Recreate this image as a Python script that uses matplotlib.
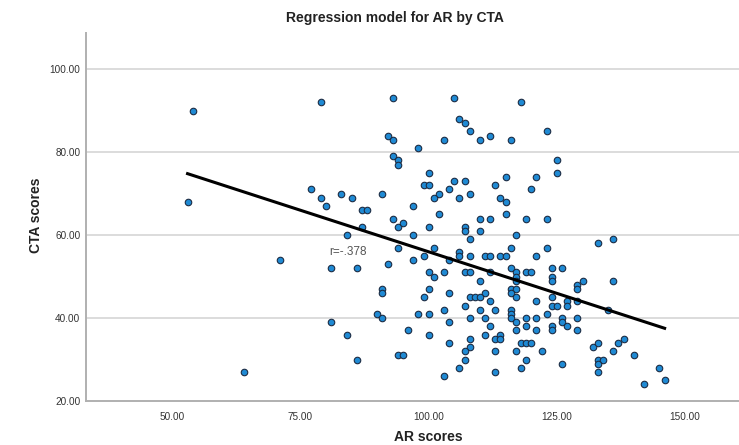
import matplotlib.pyplot as plt
import numpy as np

plt.rcParams['font.family'] = ['Liberation Sans', 'DejaVu Sans']

# AR scores (x) and CTA scores (y)
ar_scores = [
    54, 79, 93, 92, 93, 98, 103, 93, 94, 94, 100, 99, 100, 104, 102, 101, 91, 77,
    79, 80, 83, 85, 87, 88, 97, 102, 93, 94, 95, 87, 100, 84, 97, 53,
    105, 106, 107, 108, 110, 112, 116, 118, 123, 125, 125, 121, 120, 115, 113,
    114, 115, 115, 119, 123, 112, 110, 110, 108, 107, 106, 105, 107, 107, 108,
    117, 136,
    94, 101, 99, 97, 92, 71, 81, 86, 100, 101, 103, 91, 91, 100, 99, 104, 103,
    90, 91, 98, 100, 104, 81, 96, 100, 104, 84, 94, 95, 86, 64, 103, 104,
    133, 106, 106, 108, 111, 112, 114, 115, 116, 121, 123,
    107, 108, 110, 112, 116, 117, 117, 117, 119, 120, 124, 126, 124, 124, 129,
    130, 129, 136,
    116, 117, 116, 117, 111, 108, 109, 110, 112, 107, 110, 113, 116, 116, 116,
    121, 124, 124, 125, 127, 127, 129, 123, 126, 126, 127, 129, 129, 124, 124,
    121, 121, 119, 119, 117, 117, 135, 108, 111, 112, 111, 113, 114, 114, 108,
    108, 107, 107, 106, 113, 113, 117, 118, 119, 120, 119, 118, 122, 126, 132,
    133, 133, 134, 133, 133, 136, 137, 138, 140, 142, 145, 146,
]
cta_scores = [
    90, 92, 93, 84, 83, 81, 83, 79, 78, 77, 75, 72, 72, 71, 70, 69, 70, 71,
    69, 67, 70, 69, 66, 66, 67, 65, 64, 62, 63, 62, 62, 60, 60, 68,
    93, 88, 87, 85, 83, 84, 83, 92, 85, 78, 75, 74, 71, 74, 72,
    69, 68, 65, 64, 64, 64, 64, 61, 70, 73, 69, 73, 62, 61, 59,
    60, 59,
    57, 57, 55, 54, 53, 54, 52, 52, 51, 50, 51, 47, 46, 47, 45, 46, 42,
    41, 40, 41, 41, 39, 39, 37, 36, 34, 36, 31, 31, 30, 27, 26, 54,
    58, 56, 55, 55, 55, 55, 55, 55, 57, 55, 57,
    51, 51, 49, 51, 52, 51, 50, 49, 51, 51, 52, 52, 50, 49, 48,
    49, 47, 49,
    47, 47, 46, 45, 46, 45, 45, 45, 44, 43, 42, 42, 42, 41, 40,
    44, 45, 43, 43, 44, 43, 44, 41, 40, 39, 38, 40, 37, 38, 37,
    40, 37, 40, 38, 39, 37, 42, 40, 40, 38, 36, 35, 36, 35, 35,
    33, 32, 30, 28, 32, 27, 32, 34, 34, 34, 30, 28, 32, 29, 33,
    34, 30, 30, 29, 27, 32, 34, 35, 31, 24, 28, 25,
]
x_ticks = [50, 75, 100, 125, 150]
y_ticks = [20, 40, 60, 80, 100]

x = np.array(ar_scores)
y = np.array(cta_scores)
slope, intercept = np.polyfit(x, y, 1)
x_fit = np.array([x.min(), x.max()])

fig = plt.figure(figsize=(7.39, 4.45), dpi=100)
ax = fig.add_axes([86 / 739, 44 / 445, 1 - 86 / 739, (401 - 32.7) / 445])

for v in y_ticks[1:]:
    ax.axhline(v, color='#dcdcdc', lw=1.4, zorder=0)

ax.scatter(x, y, s=22, facecolor='#1f8ad4', edgecolor='#1c2c44', linewidth=0.8, zorder=3)
ax.plot(x_fit, slope * x_fit + intercept, color='black', lw=2.2, zorder=4)
ax.text(80.6, 55.9, 'r=-.378', fontsize=8.5, color='#555555', va='center', ha='left')

ax.set_xlim(33.2, 160.5)
ax.set_ylim(20, 108.8)
ax.set_xticks(x_ticks)
ax.set_yticks(y_ticks)
ax.set_xticklabels(['%.2f' % t for t in x_ticks])
ax.set_yticklabels(['%.2f' % t for t in y_ticks])
ax.tick_params(length=0, labelsize=7.2, colors='#333333')
ax.tick_params(axis='x', pad=8)
ax.tick_params(axis='y', pad=4)
for side in ['top', 'right']:
    ax.spines[side].set_visible(False)
for side in ['left', 'bottom']:
    ax.spines[side].set_color('#b0b0b0')
    ax.spines[side].set_linewidth(1.4)

fig.text(395 / 739, 1 - 18 / 445, 'Regression model for AR by CTA', ha='center', va='center',
         fontsize=10, fontweight='bold', color='#222222')
fig.text(428 / 739, 1 - 437 / 445, 'AR scores', ha='center', va='center',
         fontsize=10, fontweight='bold', color='#222222')
fig.text(36 / 739, 1 - 215 / 445, 'CTA scores', ha='center', va='center', rotation=90,
         fontsize=10, fontweight='bold', color='#222222')

fig.savefig('out.png', dpi=100)
